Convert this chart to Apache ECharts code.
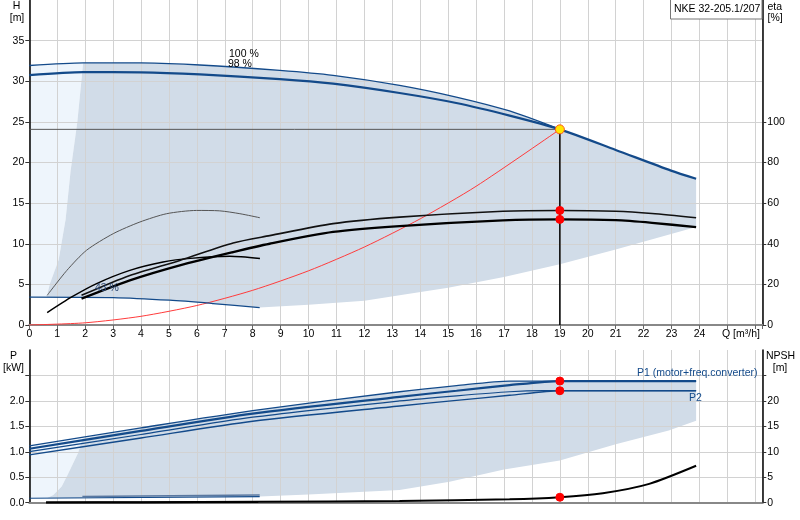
<!DOCTYPE html>
<html>
<head>
<meta charset="utf-8">
<script src="https://cdn.jsdelivr.net/npm/echarts@6/dist/echarts.min.js"></script>
<style>
html,body{margin:0;padding:0;background:#fff;}
#chart{width:800px;height:520px;}
</style>
</head>
<body>
<div id="chart"></div>
<script>
// Q-H curves [Q m3/h, H m]
var qh100 = [[0,31.94],[1.93,32.27],[4,32.25],[6.11,32.0],[8.97,31.34],[10.88,30.73],[13.26,29.5],[15.29,28.06],[17.2,26.34],[19,24.08]];
var qh98 = [[0,30.75],[1.93,31.12],[4,31.1],[6.11,30.85],[8.97,30.27],[10.88,29.7],[13.26,28.55],[15.29,27.32],[17.2,25.77],[19,24.08],[21,21.55],[22.98,19.0],[23.88,18.0]];
var qhMin = [[0,3.44],[3.0,3.38],[5.03,3.05],[6.58,2.64],[8.25,2.14]];
var qhLeft = [[0.62,3.46],[0.74,5.1],[1.05,8],[1.3,13],[1.48,19],[1.72,25],[1.93,32.27]];
var qhLow = [[8.25,2.14],[10,2.5],[12,3.0],[13.26,3.65],[15,4.6],[17,5.9],[19,7.47],[21,9.3],[23.88,12.06]];
var sysCurve = [[0,0],[2,0.27],[4,1.07],[6,2.4],[8,4.27],[10,6.67],[12,9.6],[14,13.07],[16,17.07],[19,24.08]];
var duty = [19, 24.08];
var hTicks = [0, 5, 10, 15, 20, 25, 30, 35];

// efficiency curves [Q, eta %]
var etaMax = [[1.87,14.6],[3.6,24.4],[5.39,31.8],[7.3,40.4],[8.61,44.0],[10.88,49.9],[13.26,53.1],[16.96,56.0],[19,56.4],[21,56.0],[22.3,54.9],[23.88,52.8]];
var etaDuty = [[1.87,13.0],[3.6,22.0],[5.39,29.4],[7.3,35.9],[8.61,40.0],[10.88,45.8],[13.26,48.7],[16.96,51.5],[19,52.0],[21,51.6],[22.3,50.3],[23.88,48.2]];
var etaLowA = [[0.64,14.6],[1.34,26.8],[2.05,36.8],[3.01,45.0],[3.96,50.7],[4.92,54.8],[5.99,56.4],[6.82,56.2],[7.54,54.8],[8.26,52.8]];
var etaLowB = [[0.64,6.1],[1.52,13.8],[2.41,20.4],[3.6,26.9],[4.79,31.0],[5.76,32.8],[7.18,33.8],[8.26,32.7]];
var etaDots = [[19,56.4],[19,52.0]];
var etaTicks = [0, 20, 40, 60, 80, 100];

// power curves [Q, P kW]
var p1Max = [[0,1.115],[4,1.47],[8,1.81],[13.26,2.18],[15.3,2.30],[17.2,2.39],[23.88,2.39]];
var p1Duty = [[0,1.06],[4,1.41],[8,1.75],[13.26,2.08],[15.3,2.2],[17.2,2.31],[19,2.39],[23.88,2.39]];
var p2Max = [[0,1.005],[4,1.34],[8,1.68],[13.26,2.0],[15.3,2.1],[17.2,2.18],[18.4,2.2],[23.88,2.2]];
var p2Duty = [[0,0.94],[4,1.27],[8,1.60],[13.26,1.90],[15.3,2.01],[17.2,2.11],[19,2.2],[23.88,2.2]];
var pMinA = [[0,0.087],[8.25,0.12]];
var pMinB = [[1.9,0.12],[8.25,0.15]];
var pLeft = [[0.62,0.087],[0.86,0.15],[1.16,0.32],[1.4,0.58],[1.75,0.98],[1.9,1.26]];
var pLow = [[8.25,0.12],[10,0.16],[13.26,0.25],[15.05,0.41],[17,0.65],[19,0.83],[21,1.15],[22.9,1.42],[23.88,1.61]];
var pDots = [[19,2.39],[19,2.2]];
var pTicks = [0, 0.5, 1, 1.5, 2, 2.5];

// NPSH [Q, m]
var npsh = [[0.6,0.05],[4,0.1],[8.2,0.2],[13.26,0.34],[17.2,0.67],[19,1.07],[20.54,1.86],[22.2,3.7],[23.88,7.25]];
var npshLow = [[0.6,0.02],[4,0.05],[8.2,0.12]];
var npshDot = [[19,1.07]];
var npshTicks = [0, 5, 10, 15, 20, 25];

var xTicks = {min:0, max:26.25, interval:1, lastLabel:24};

var FONT = 'Liberation Sans, Arial, sans-serif';
var BLUE = '#134a8a';
var DARK_FILL = '#d1dce8';
var LIGHT_FILL = '#eef5fc';

// polygons built from the curve arrays
var topDark = qhLeft
	.concat(qh100.filter(function(p){ return p[0] > 1.93; }))
	.concat(qh98.filter(function(p){ return p[0] > 19; }))
	.concat(qhLow.slice().reverse())
	.concat(qhMin.filter(function(p){ return p[0] > 0.62; }).reverse());
var topLight = qh100.slice(0, 2).concat(qhLeft.slice().reverse()).concat([qhMin[0]]);
var botDark = pLeft
	.concat(p1Max.filter(function(p){ return p[0] > 1.9; }))
	.concat(pLow.slice().reverse())
	.concat(pMinA.filter(function(p){ return p[0] > 0.62; }).reverse());
var botLight = [pMinA[0], p1Max[0]].concat(pLeft.slice().reverse());

function area(pts, color, xi, yi) {
	return {
		type: 'custom', xAxisIndex: xi, yAxisIndex: yi, z: -1, silent: true,
		data: [[0, 0]],
		renderItem: function(params, api) {
			return {
				type: 'polygon',
				shape: { points: pts.map(function(p){ return api.coord(p); }), smooth: 0 },
				style: { fill: color }
			};
		}
	};
}

function curve(data, color, width, xi, yi, smooth) {
	return {
		type: 'line', data: data, xAxisIndex: xi, yAxisIndex: yi,
		symbol: 'none', silent: true, smooth: smooth === undefined ? 0.25 : smooth,
		lineStyle: { color: color, width: width }, z: 3
	};
}

function dots(data, xi, yi, fill, border, size) {
	return {
		type: 'scatter', data: data, xAxisIndex: xi, yAxisIndex: yi, silent: true,
		symbolSize: size, z: 6,
		itemStyle: { color: fill, borderColor: border, borderWidth: 1, opacity: 1 }
	};
}

// text placed by its anchor point
function text(str, x, y, opt) {
	opt = opt || {};
	return {
		type: 'text', x: x, y: y, z: 10,
		style: {
			text: str, fill: opt.color || '#000', font: (opt.size || 10.5) + 'px ' + FONT,
			align: opt.align || 'left', verticalAlign: 'middle'
		}
	};
}

function yAxis(grid, max, interval, pos, ticks, fmt, split) {
	return {
		gridIndex: grid, type: 'value', min: 0, max: max, interval: interval, position: pos,
		axisLine: { show: true, lineStyle: { color: '#000', width: 1.5 } },
		axisTick: { show: true, length: 4, customValues: ticks, lineStyle: { color: '#333' } },
		axisLabel: { color: '#000', fontSize: 10.5, fontFamily: FONT, margin: 5, customValues: ticks, formatter: fmt },
		splitLine: split ? gridLine : { show: false }
	};
}

var gridLine = { lineStyle: { color: '#d2d2d2', width: 1 } };

var myChart = echarts.init(document.getElementById('chart'));
var option = {
	animation: false,
	grid: [
		{ left: 29.3, right: 37.7, top: 0, height: 325 },
		{ left: 29.3, right: 37.7, top: 350, height: 152.7 }
	],
	xAxis: [
		{
			gridIndex: 0, type: 'value', min: xTicks.min, max: xTicks.max, interval: xTicks.interval,
			axisLine: { lineStyle: { color: '#888', width: 2 } },
			axisTick: { length: 4, lineStyle: { color: '#666' } },
			axisLabel: { color: '#000', fontSize: 10.5, fontFamily: FONT, margin: 4,
				formatter: function(v){ return v <= xTicks.lastLabel ? String(v) : ''; } },
			splitLine: gridLine
		},
		{
			gridIndex: 1, type: 'value', min: xTicks.min, max: xTicks.max, interval: xTicks.interval,
			axisLine: { lineStyle: { color: '#888', width: 2 } },
			axisTick: { show: false }, axisLabel: { show: false },
			splitLine: gridLine
		}
	],
	yAxis: [
		yAxis(0, 40, 5, 'left', hTicks, function(v){ return String(v); }, true),
		yAxis(0, 160, 20, 'right', etaTicks, function(v){ return String(v); }, false),
		yAxis(1, 3, 0.5, 'left', pTicks, function(v){ return v <= 2 ? v.toFixed(1) : ''; }, true),
		yAxis(1, 30, 5, 'right', npshTicks, function(v){ return v <= 20 ? String(v) : ''; }, false)
	],
	graphic: [
		text('H', 16.5, 6.5, { align: 'center' }),
		text('[m]', 17, 18.5, { align: 'center' }),
		text('eta', 767.5, 7),
		text('[%]', 767.5, 18.5),
		text('P', 13.5, 356, { align: 'center' }),
		text('[kW]', 13.5, 368, { align: 'center' }),
		text('NPSH', 780.5, 356.5, { align: 'center' }),
		text('[m]', 780, 368, { align: 'center' }),
		text('Q [m\u00b3/h]', 722, 334),
		text('100 %', 229, 54),
		text('98 %', 228, 64.5),
		text('43 %', 95, 288, { color: '#2a4670' }),
		text('P1 (motor+freq.converter)', 637, 373.5, { color: BLUE }),
		text('P2', 689, 398, { color: BLUE }),
		{
			type: 'rect', x: 670.5, y: -1, z: 9,
			shape: { width: 91.5, height: 20 },
			style: { fill: '#fff', stroke: '#777', lineWidth: 1 }
		},
		text('NKE 32-205.1/207', 674, 9)
	],
	series: [
		area(topLight, LIGHT_FILL, 0, 0),
		area(topDark, DARK_FILL, 0, 0),
		area(botLight, LIGHT_FILL, 1, 2),
		area(botDark, DARK_FILL, 1, 2),

		curve(sysCurve, '#ff3b3b', 1, 0, 0),
		curve([[0, duty[1]], duty], '#555', 1, 0, 0, false),
		curve([duty, [duty[0], 0]], '#000', 1.5, 0, 0, false),
		curve(qhMin, BLUE, 1.3, 0, 0),
		curve(qh100, BLUE, 1.3, 0, 0),
		curve(qh98, BLUE, 2.2, 0, 0),

		curve(etaLowA, '#555', 1, 0, 1),
		curve(etaLowB, '#000', 1.5, 0, 1),
		curve(etaMax, '#111', 1.6, 0, 1),
		curve(etaDuty, '#000', 2.3, 0, 1),

		curve(p1Max, BLUE, 1.3, 1, 2),
		curve(p1Duty, BLUE, 2.2, 1, 2),
		curve(p2Max, BLUE, 1.2, 1, 2),
		curve(p2Duty, BLUE, 1.4, 1, 2),
		curve(pMinA, BLUE, 1.2, 1, 2, false),
		curve(pMinB, '#5a78a0', 1.5, 1, 2, false),
		curve(npshLow, '#000', 2, 1, 3),
		curve(npsh, '#000', 2, 1, 3),

		dots([duty], 0, 0, '#ffe600', '#ff5a1a', 9),
		dots(etaDots, 0, 1, '#ff0000', '#ff0000', 8),
		dots(pDots, 1, 2, '#ff0000', '#ff0000', 8),
		dots(npshDot, 1, 3, '#ff0000', '#ff0000', 8)
	]
};
myChart.setOption(option);
</script>
</body>
</html>
